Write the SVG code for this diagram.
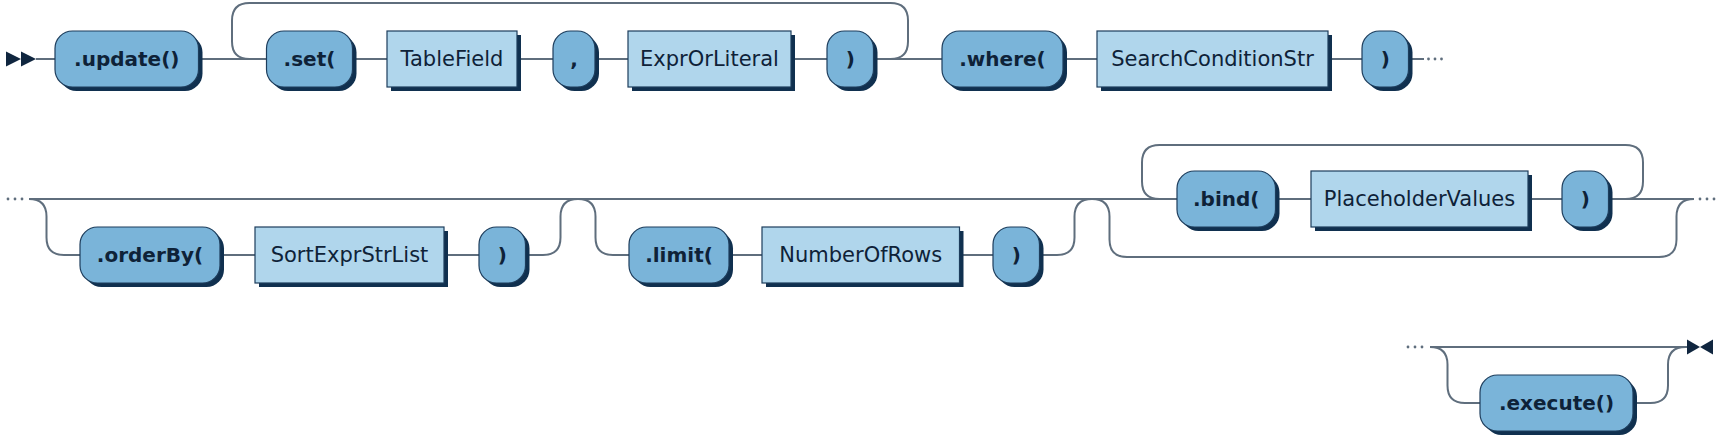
<svg xmlns="http://www.w3.org/2000/svg" width="1725" height="442" viewBox="0 0 1725 442">
<style>
.line{fill:none;stroke:#5f6e7d;stroke-width:2}
.shadow{fill:#10304f}
.term{fill:#7ab4d9;stroke:#1d3d5c;stroke-width:1.2}
.nterm{fill:#b0d6ec;stroke:#1d3d5c;stroke-width:1.2}
.tt{font-family:"DejaVu Sans",Verdana,sans-serif;font-size:20px;font-weight:bold;fill:#0e2238;text-anchor:middle}
.nt{font-family:"DejaVu Sans",Verdana,sans-serif;font-size:21px;fill:#0e2238;text-anchor:middle}
.mark{fill:#10263f}
.dot{fill:#5f6e7d}
</style>
<rect width="1725" height="442" fill="#ffffff"/>
<g id="connectors">
<!-- row 1 -->
<path class="line" d="M36 59 H55 M198.5 59 H266.5 M352.5 59 H387 M517 59 H553 M595 59 H628 M791 59 H827 M873.5 59 H942 M1063 59 H1097 M1328 59 H1362 M1408.5 59 H1424"/>
<path class="line" d="M249.5 59 Q232 59 232 41.5 V20.5 Q232 3 249.5 3 H890.5 Q908 3 908 20.5 V41.5 Q908 59 890.5 59"/>
<!-- row 2 -->
<path class="line" d="M29 199 H1177 M1275.5 199 H1311 M1528 199 H1562 M1608.5 199 H1694"/>
<path class="line" d="M29 199 Q46.5 199 46.5 216.5 V237.5 Q46.5 255 64 255 H80 M220 255 H255 M444 255 H479 M525.5 255 H543 Q560.5 255 560.5 237.5 V216.5 Q560.5 199 578 199"/>
<path class="line" d="M578 199 Q595.5 199 595.5 216.5 V237.5 Q595.5 255 613 255 H629 M729 255 H762 M959.5 255 H993 M1039.5 255 H1057 Q1074.5 255 1074.5 237.5 V216.5 Q1074.5 199 1092 199"/>
<path class="line" d="M1092 199 Q1109.5 199 1109.5 216.5 V239.5 Q1109.5 257 1127 257 H1659 Q1676.5 257 1676.5 239.5 V216.5 Q1676.5 199 1694 199"/>
<path class="line" d="M1159.5 199 Q1142 199 1142 181.5 V162.5 Q1142 145 1159.5 145 H1625.5 Q1643 145 1643 162.5 V181.5 Q1643 199 1625.5 199"/>
<!-- row 3 -->
<path class="line" d="M1430 347 H1687"/>
<path class="line" d="M1430 347 Q1447.5 347 1447.5 364.5 V385.5 Q1447.5 403 1465 403 H1480 M1633 403 H1650.5 Q1668 403 1668 385.5 V364.5 Q1668 347 1685.5 347"/>
<!-- dots -->
<circle class="dot" cx="1428.5" cy="59" r="1.4"/><circle class="dot" cx="1435" cy="59" r="1.4"/><circle class="dot" cx="1441.5" cy="59" r="1.4"/>
<circle class="dot" cx="8" cy="199" r="1.4"/><circle class="dot" cx="15" cy="199" r="1.4"/><circle class="dot" cx="22" cy="199" r="1.4"/>
<circle class="dot" cx="1700" cy="199" r="1.4"/><circle class="dot" cx="1707" cy="199" r="1.4"/><circle class="dot" cx="1714" cy="199" r="1.4"/>
<circle class="dot" cx="1408" cy="347" r="1.4"/><circle class="dot" cx="1415" cy="347" r="1.4"/><circle class="dot" cx="1422" cy="347" r="1.4"/>
<!-- start / end markers -->
<polygon class="mark" points="6,51.5 21,59 6,66.5"/><polygon class="mark" points="21,51.5 36,59 21,66.5"/>
<polygon class="mark" points="1687,339.5 1700,347 1687,354.5"/><polygon class="mark" points="1713,339.5 1700,347 1713,354.5"/>
</g>
<g id="n-update"><rect class="shadow" x="59" y="35" width="143.5" height="56" rx="17.5"/><rect class="term" x="55" y="31" width="143.5" height="56" rx="17.5"/><text class="tt" x="126.75" y="66">.update()</text></g>
<g id="n-set"><rect class="shadow" x="270.5" y="35" width="86" height="56" rx="17.5"/><rect class="term" x="266.5" y="31" width="86" height="56" rx="17.5"/><text class="tt" x="309.5" y="66">.set(</text></g>
<g id="n-tablefield"><rect class="shadow" x="391" y="35" width="130" height="56"/><rect class="nterm" x="387" y="31" width="130" height="56"/><text class="nt" x="452" y="66">TableField</text></g>
<g id="n-comma"><rect class="shadow" x="557" y="35" width="42" height="56" rx="17.5"/><rect class="term" x="553" y="31" width="42" height="56" rx="17.5"/><text class="tt" x="574" y="66">,</text></g>
<g id="n-exprorliteral"><rect class="shadow" x="632" y="35" width="163" height="56"/><rect class="nterm" x="628" y="31" width="163" height="56"/><text class="nt" x="709.5" y="66">ExprOrLiteral</text></g>
<g id="n-close1"><rect class="shadow" x="831" y="35" width="46.5" height="56" rx="17.5"/><rect class="term" x="827" y="31" width="46.5" height="56" rx="17.5"/><text class="tt" x="850.25" y="66">)</text></g>
<g id="n-where"><rect class="shadow" x="946" y="35" width="121" height="56" rx="17.5"/><rect class="term" x="942" y="31" width="121" height="56" rx="17.5"/><text class="tt" x="1002.5" y="66">.where(</text></g>
<g id="n-searchcondition"><rect class="shadow" x="1101" y="35" width="231" height="56"/><rect class="nterm" x="1097" y="31" width="231" height="56"/><text class="nt" x="1212.5" y="66">SearchConditionStr</text></g>
<g id="n-close2"><rect class="shadow" x="1366" y="35" width="46.5" height="56" rx="17.5"/><rect class="term" x="1362" y="31" width="46.5" height="56" rx="17.5"/><text class="tt" x="1385.25" y="66">)</text></g>
<g id="n-orderby"><rect class="shadow" x="84" y="231" width="140" height="56" rx="17.5"/><rect class="term" x="80" y="227" width="140" height="56" rx="17.5"/><text class="tt" x="150" y="262">.orderBy(</text></g>
<g id="n-sortexpr"><rect class="shadow" x="259" y="231" width="189" height="56"/><rect class="nterm" x="255" y="227" width="189" height="56"/><text class="nt" x="349.5" y="262">SortExprStrList</text></g>
<g id="n-close3"><rect class="shadow" x="483" y="231" width="46.5" height="56" rx="17.5"/><rect class="term" x="479" y="227" width="46.5" height="56" rx="17.5"/><text class="tt" x="502.25" y="262">)</text></g>
<g id="n-limit"><rect class="shadow" x="633" y="231" width="100" height="56" rx="17.5"/><rect class="term" x="629" y="227" width="100" height="56" rx="17.5"/><text class="tt" x="679" y="262">.limit(</text></g>
<g id="n-numberofrows"><rect class="shadow" x="766" y="231" width="197.5" height="56"/><rect class="nterm" x="762" y="227" width="197.5" height="56"/><text class="nt" x="860.75" y="262">NumberOfRows</text></g>
<g id="n-close4"><rect class="shadow" x="997" y="231" width="46.5" height="56" rx="17.5"/><rect class="term" x="993" y="227" width="46.5" height="56" rx="17.5"/><text class="tt" x="1016.25" y="262">)</text></g>
<g id="n-bind"><rect class="shadow" x="1181" y="175" width="98.5" height="56" rx="17.5"/><rect class="term" x="1177" y="171" width="98.5" height="56" rx="17.5"/><text class="tt" x="1226.25" y="206">.bind(</text></g>
<g id="n-placeholder"><rect class="shadow" x="1315" y="175" width="217" height="56"/><rect class="nterm" x="1311" y="171" width="217" height="56"/><text class="nt" x="1419.5" y="206">PlaceholderValues</text></g>
<g id="n-close5"><rect class="shadow" x="1566" y="175" width="46.5" height="56" rx="17.5"/><rect class="term" x="1562" y="171" width="46.5" height="56" rx="17.5"/><text class="tt" x="1585.25" y="206">)</text></g>
<g id="n-execute"><rect class="shadow" x="1484" y="379" width="153" height="56" rx="17.5"/><rect class="term" x="1480" y="375" width="153" height="56" rx="17.5"/><text class="tt" x="1556.5" y="410">.execute()</text></g>
</svg>
